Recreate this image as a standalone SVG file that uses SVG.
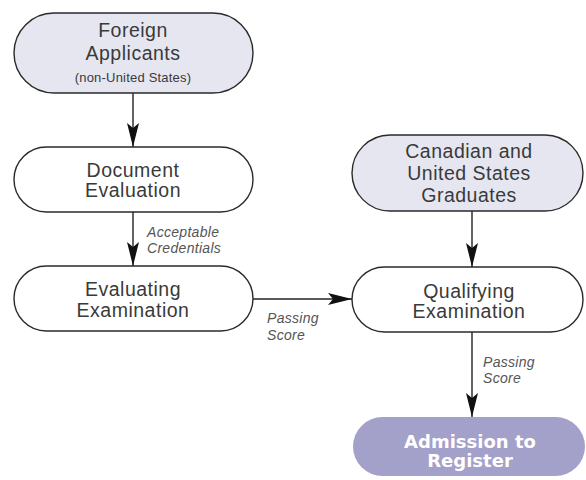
<svg xmlns="http://www.w3.org/2000/svg" width="586" height="480" viewBox="0 0 586 480">
<defs>
<style>
.node{stroke:#2a2a2a;stroke-width:1.4}
.light{fill:#e6e6f1}
.white{fill:#ffffff}
.t{font-family:"Liberation Sans",Arial,sans-serif;font-size:19.5px;letter-spacing:0.5px;fill:#3a3a3a;text-anchor:middle}
.s{font-size:13px;letter-spacing:0.2px}
.lbl{font-family:"Liberation Sans",Arial,sans-serif;font-size:14px;letter-spacing:0.3px;font-style:italic;fill:#555}
.b{font-family:"DejaVu Sans",Verdana,sans-serif;font-size:18px;font-weight:bold;fill:#fff;text-anchor:middle}
.edge{stroke:#222;stroke-width:1.4;fill:none}
</style>
<marker id="arr" viewBox="0 0 24 14" refX="24" refY="7" markerWidth="24" markerHeight="14" markerUnits="userSpaceOnUse" orient="auto">
<path d="M0,1 Q12,4 24,7 Q12,10 0,13 L5,7 Z" fill="#111"/>
</marker>
</defs>
<g id="connectors">
<line class="edge" x1="133" y1="93" x2="133" y2="147" marker-end="url(#arr)"/>
<line class="edge" x1="133" y1="212" x2="133" y2="266" marker-end="url(#arr)"/>
<line class="edge" x1="253" y1="299" x2="352" y2="299" marker-end="url(#arr)"/>
<line class="edge" x1="472" y1="211" x2="472" y2="267" marker-end="url(#arr)"/>
<line class="edge" x1="472" y1="332" x2="472" y2="417" marker-end="url(#arr)"/>
<text class="lbl" x="147" y="237">Acceptable</text>
<text class="lbl" x="147" y="253">Credentials</text>
<text class="lbl" x="267" y="323">Passing</text>
<text class="lbl" x="267" y="340">Score</text>
<text class="lbl" x="483" y="367">Passing</text>
<text class="lbl" x="483" y="383">Score</text>
</g>
<g id="foreign">
<rect class="node light" x="14" y="13" width="239" height="80" rx="40"/>
<text class="t" x="133" y="37">Foreign</text>
<text class="t" x="133" y="60">Applicants</text>
<text class="t s" x="133" y="82">(non-United States)</text>
</g>
<g id="document">
<rect class="node white" x="14" y="147" width="239" height="65" rx="32.5"/>
<text class="t" x="133" y="177">Document</text>
<text class="t" x="133" y="197">Evaluation</text>
</g>
<g id="evaluating">
<rect class="node white" x="14" y="266" width="239" height="65" rx="32.5"/>
<text class="t" x="133" y="296">Evaluating</text>
<text class="t" x="133" y="317">Examination</text>
</g>
<g id="canadian">
<rect class="node light" x="352" y="135" width="231" height="76" rx="38"/>
<text class="t" x="469" y="158">Canadian and</text>
<text class="t" x="469" y="180">United States</text>
<text class="t" x="469" y="202">Graduates</text>
</g>
<g id="qualifying">
<rect class="node white" x="352" y="267" width="231" height="65" rx="32.5"/>
<text class="t" x="469" y="298">Qualifying</text>
<text class="t" x="469" y="318">Examination</text>
</g>
<g id="admission">
<rect x="353" y="417" width="232" height="59" rx="29.5" fill="#a3a0c9"/>
<text class="b" x="470" y="448">Admission to</text>
<text class="b" x="470" y="467">Register</text>
</g>
</svg>
